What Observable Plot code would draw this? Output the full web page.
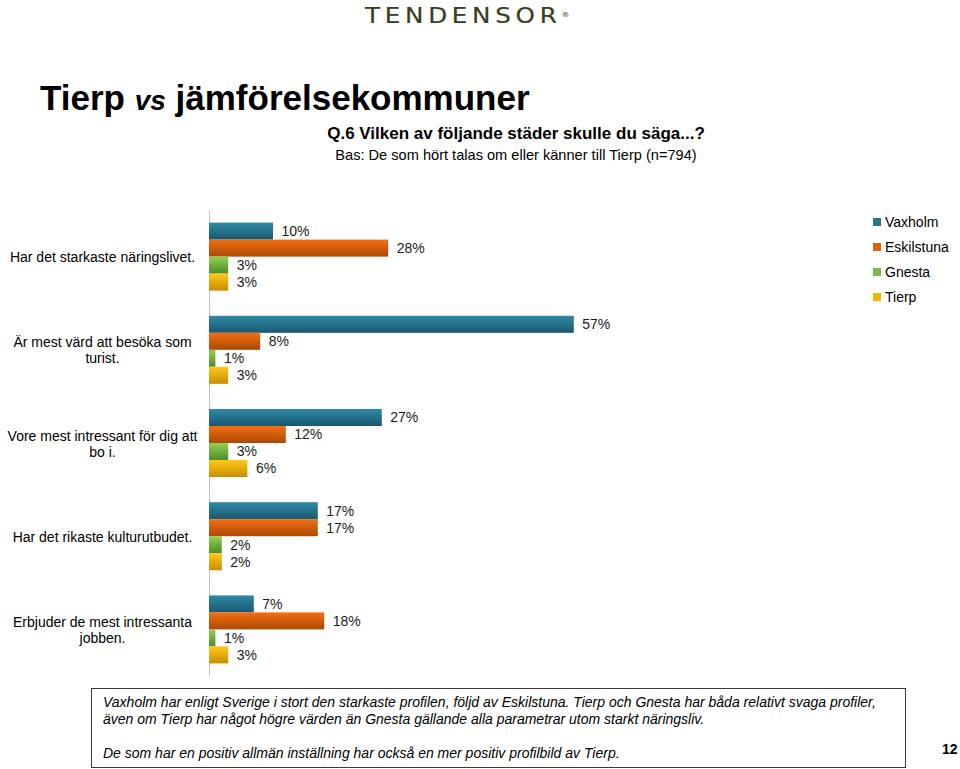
<!DOCTYPE html>
<html>
<head>
<meta charset="utf-8">
<script src="https://cdn.jsdelivr.net/npm/d3@7"></script>
<script src="https://cdn.jsdelivr.net/npm/@observablehq/plot@0.6"></script>
<style>
  html, body { margin: 0; padding: 0; background: #fff; }
  #page { position: relative; width: 960px; height: 769px; overflow: hidden; font-family: Arial, "Liberation Sans", sans-serif; color: #000; }
  .abs { position: absolute; white-space: nowrap; }
  #logo { left: 365px; top: 5px; font-family: "DejaVu Sans", sans-serif; font-size: 22px; line-height: 22px; letter-spacing: 4.2px; color: #3a3d1e; transform: scaleX(1.12); transform-origin: left top; -webkit-text-stroke: 0.2px #3a3d1e; }
  #logo sup { font-size: 7px; letter-spacing: 0; vertical-align: top; position: relative; top: -1px; -webkit-text-stroke: 0; }
  #title { left: 40px; top: 80px; font-size: 35px; line-height: 35px; font-weight: bold; }
  #title i { font-size: 28px; }
  #sub1 { left: 0; width: 1032px; text-align: center; top: 125px; font-size: 17px; line-height: 17px; font-weight: bold; }
  #sub2 { left: 0; width: 1032px; text-align: center; top: 148px; font-size: 14.6px; line-height: 15px; }
  #chart { left: 0; top: 200px; }
  .leg { left: 873px; font-size: 14px; line-height: 14px; }
  .leg span.sw { display: inline-block; width: 8px; height: 8px; margin-right: 4px; vertical-align: 1px; }
  #note { left: 91px; top: 688px; width: 815px; height: 80px; border: 1px solid #3a3a3a; box-sizing: border-box; padding: 5px 0 0 11px; font-size: 14px; line-height: 17px; font-style: italic; white-space: normal; }
  #pnum { left: 942px; top: 741px; font-size: 14px; font-weight: bold; }
</style>
</head>
<body>
<div id="page">
  <div id="logo" class="abs">TENDENSOR<sup>®</sup></div>
  <div id="title" class="abs">Tierp <i>vs</i> jämförelsekommuner</div>
  <div id="sub1" class="abs">Q.6 Vilken av följande städer skulle du säga...?</div>
  <div id="sub2" class="abs">Bas: De som hört talas om eller känner till Tierp (n=794)</div>
  <div id="chart" class="abs"></div>
  <div id="legend"></div>
  <div id="note" class="abs">Vaxholm har enligt Sverige i stort den starkaste profilen, följd av Eskilstuna. Tierp och Gnesta har båda relativt svaga profiler, även om Tierp har något högre värden än Gnesta gällande alla parametrar utom starkt näringsliv.<br><br>De som har en positiv allmän inställning har också en mer positiv profilbild av Tierp.</div>
  <div id="pnum" class="abs">12</div>
</div>
<script>
// ---- data ----
const categories = [
  "Har det starkaste näringslivet.",
  "Är mest värd att besöka som\nturist.",
  "Vore mest intressant för dig att\nbo i.",
  "Har det rikaste kulturutbudet.",
  "Erbjuder de mest intressanta\njobben."
];
const seriesNames = ["Vaxholm", "Eskilstuna", "Gnesta", "Tierp"];
const vaxholm    = [10, 57, 27, 17, 7];
const eskilstuna = [28, 8, 12, 17, 18];
const gnesta     = [3, 1, 3, 2, 1];
const tierp      = [3, 3, 6, 2, 3];

// ---- styling ----
const gradStops = [
  ["#2f8aa6", "#1a5870"],
  ["#f46f12", "#ab4905"],
  ["#93d152", "#4d8c2b"],
  ["#ffc81a", "#c78f00"]
];
const legendColors = ["#24748d", "#dc620c", "#7bb948", "#f2b600"];

const seriesValues = [vaxholm, eskilstuna, gnesta, tierp];
const rows = categories.flatMap((c, ci) =>
  seriesNames.map((s, si) => ({category: c, series: s, si, value: seriesValues[si][ci]}))
);

const barH = 17;
const marks = [Plot.ruleX([0], {stroke: "#c4c4c4", strokeWidth: 1})];
seriesNames.forEach((s, si) => {
  const data = rows.filter(d => d.series === s);
  marks.push(Plot.barX(data, {
    x: "value", y: "category", fill: `url(#grad${si})`,
    insetTop: si * barH, insetBottom: (3 - si) * barH
  }));
  marks.push(Plot.text(data, {
    x: "value", y: "category", text: d => d.value + "%",
    textAnchor: "start", dx: 8, dy: (si - 1.5) * barH,
    fontSize: 14, fill: "#1a1a1a"
  }));
});
marks.push(Plot.text(categories, {
  y: d => d, text: d => d, frameAnchor: "left", dx: -107,
  textAnchor: "middle", lineAnchor: "middle", lineHeight: 1.15,
  fontSize: 14, fill: "#000"
}));

const svg = Plot.plot({
  width: 960,
  height: 481,
  marginLeft: 209,
  marginRight: 111,
  marginTop: 10,
  marginBottom: 5,
  style: {fontFamily: "Arial, 'Liberation Sans', sans-serif", fontSize: "14px", background: "transparent", overflow: "visible"},
  x: {domain: [0, 100], axis: null},
  y: {domain: categories, axis: null, paddingInner: 0.27, paddingOuter: 0.135, round: false},
  marks
});

const defs = d3.select(svg).insert("defs", ":first-child");
gradStops.forEach((st, i) => {
  const g = defs.append("linearGradient").attr("id", `grad${i}`)
    .attr("x1", 0).attr("y1", 0).attr("x2", 0).attr("y2", 1);
  g.append("stop").attr("offset", "0%").attr("stop-color", st[0]);
  g.append("stop").attr("offset", "100%").attr("stop-color", st[1]);
});
document.getElementById("chart").appendChild(svg);

// legend (HTML)
const legendTops = [215, 240, 265, 290];
const legend = document.getElementById("legend");
seriesNames.forEach((s, i) => {
  const div = document.createElement("div");
  div.className = "abs leg";
  div.style.top = legendTops[i] + "px";
  div.innerHTML = `<span class="sw" style="background:${legendColors[i]}"></span>${s}`;
  legend.appendChild(div);
});
</script>
</body>
</html>
